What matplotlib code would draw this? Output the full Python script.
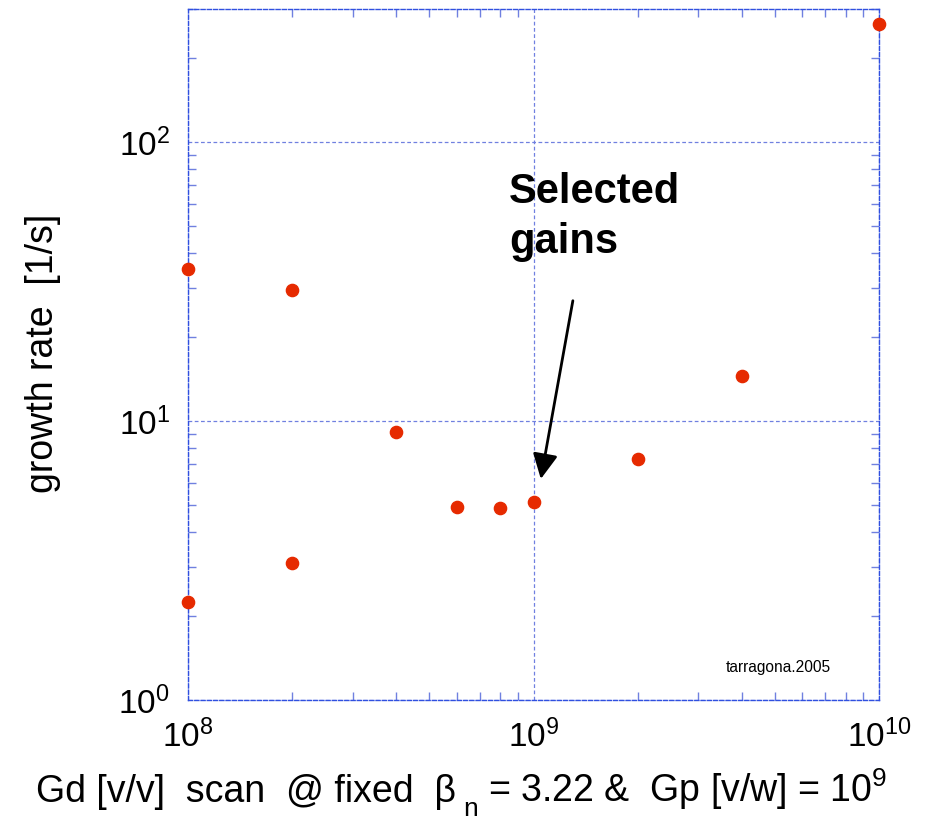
import matplotlib
matplotlib.use("Agg")
import matplotlib.pyplot as plt
from matplotlib.ticker import LogLocator, NullFormatter, LogFormatterMathtext

plt.rcParams["font.family"] = ["Liberation Sans", "DejaVu Sans"]
plt.rcParams["mathtext.fontset"] = "custom"
plt.rcParams["mathtext.rm"] = "Liberation Sans"
plt.rcParams["mathtext.it"] = "Liberation Sans"

# Gd scan values and resulting growth rates
gd = [1e8, 1e8, 2e8, 2e8, 4e8, 6e8, 8e8, 1e9, 2e9, 4e9, 1e10]
growth = [35.2, 2.25, 29.4, 3.1, 9.1, 4.93, 4.89, 5.13, 7.3, 14.5, 266]

xlim = (1e8, 1e10)
ylim = (1, 300)

axis_blue = "#3050e0"
grid_blue = "#7080e0"

W, H = 930, 824
fig = plt.figure(figsize=(W / 100, H / 100), dpi=100)
ax = fig.add_axes([188 / W, 1 - 700 / H, 691 / W, 691 / H])
ax.set_xscale("log")
ax.set_yscale("log")
ax.set_xlim(*xlim)
ax.set_ylim(*ylim)

ax.plot(gd, growth, "o", color="#e62a00", markersize=8.8, clip_on=False, zorder=5)

for s in ax.spines.values():
    s.set_color(axis_blue)
    s.set_linestyle((0, (3, 1.5)))
    s.set_linewidth(1.0)

ax.xaxis.set_major_locator(LogLocator(base=10, numticks=10))
ax.yaxis.set_major_locator(LogLocator(base=10, numticks=10))
ax.xaxis.set_minor_locator(LogLocator(base=10, subs=range(2, 10), numticks=20))
ax.yaxis.set_minor_locator(LogLocator(base=10, subs=range(2, 10), numticks=20))
ax.xaxis.set_minor_formatter(NullFormatter())
ax.yaxis.set_minor_formatter(NullFormatter())
ax.xaxis.set_major_formatter(LogFormatterMathtext())
ax.yaxis.set_major_formatter(LogFormatterMathtext())

ax.tick_params(which="both", direction="in", top=True, right=True, color=grid_blue)
ax.tick_params(which="major", length=0, labelsize=24, pad=13)
ax.tick_params(which="minor", length=6, width=1.0)
ax.tick_params(axis="x", which="major", pad=14)

ax.grid(True, which="major", color=grid_blue, linestyle=(0, (3, 2)), linewidth=0.9)

# axis titles
fig.text(43 / W, 1 - 353 / H, "growth rate  [1/s]", rotation=90,
         ha="center", va="center", fontsize=27)
base_y = 1 - 802 / H
fig.text(456 / W, base_y, "Gd [v/v]  scan  @ fixed  β",
         ha="right", va="baseline", fontsize=27)
fig.text(463 / W, 1 - 816 / H, "n", ha="left", va="baseline", fontsize=19)
fig.text(488 / W, base_y, "= 3.22 &  Gp [v/w] = 10$^{9}$",
         ha="left", va="baseline", fontsize=27)

ax.text(8.5e8, 78, "Selected\ngains", fontsize=30, fontweight="bold",
        ha="left", va="top", linespacing=1.32)
ax.annotate("", xy=(1.05e9, 6.2), xytext=(1.3e9, 27),
            arrowprops=dict(arrowstyle="-|>", mutation_scale=38, lw=2,
                            color="black", shrinkA=0, shrinkB=0))

ax.text(0.778, 0.047, "tarragona.2005", transform=ax.transAxes, fontsize=11.2,
        ha="left", va="center")

fig.savefig("out.png", dpi=100)
